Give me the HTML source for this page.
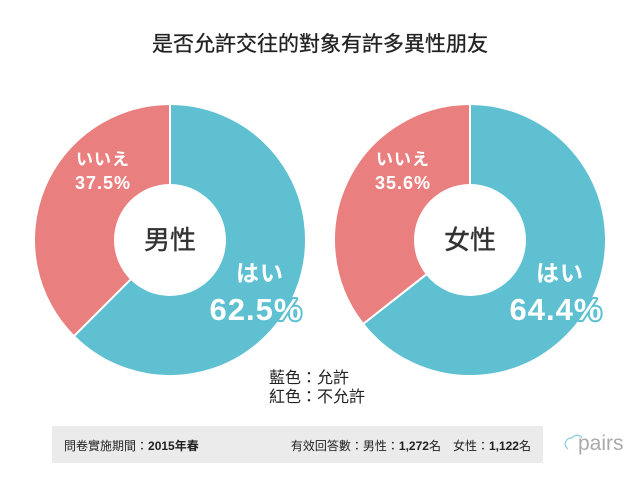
<!DOCTYPE html>
<html><head><meta charset="utf-8"><style>
body{margin:0;width:640px;height:490px;background:#fff;overflow:hidden;font-family:"Liberation Sans","Noto Sans CJK TC",sans-serif}
svg text{font-family:"Liberation Sans","Noto Sans CJK TC",sans-serif}
</style></head><body>
<svg width="640" height="490">
<text x="320" y="51" text-anchor="middle" font-size="21" fill="#222" stroke="#222" stroke-width="0.3">是否允許交往的對象有許多異性朋友</text>
<g id="pies"></g>
<text x="269" y="383" font-size="16" fill="#222">藍色：允許</text>
<text x="269" y="402" font-size="16" fill="#222">紅色：不允許</text>
<rect x="52" y="426" width="491" height="37" fill="#ebebeb"/>
<text x="64" y="450" font-size="12" fill="#222">問卷實施期間：<tspan font-weight="bold">2015年春</tspan></text>
<text x="531" y="450" text-anchor="end" font-size="12" fill="#222">有效回答數：男性：<tspan font-weight="bold">1,272</tspan>名　女性：<tspan font-weight="bold">1,122</tspan>名</text>
<path d="M568 449 a6 6 0 0 1 4 -11 a6 6 0 0 1 10 0" fill="none" stroke="#8fd0dc" stroke-width="1.3"/>
<text x="578" y="450" font-size="21" fill="#aaa">pairs</text>
</svg>
<script>
const groups=['男性','女性'];
const yesValues=[62.5,64.4];
const noValues=[37.5,35.6];
const yesLabel='はい', noLabel='いいえ';
const centersX=[170,470], cy=240, R=136, r=56;
const ns='http://www.w3.org/2000/svg';
const g=document.getElementById('pies');
function pt(cx,a,rad){return [cx+rad*Math.sin(a),cy-rad*Math.cos(a)];}
function arc(cx,a0,a1){const l=a1-a0>Math.PI?1:0;const p0=pt(cx,a0,R),p1=pt(cx,a1,R);
return `M${cx},${cy} L${p0} A${R},${R} 0 ${l} 1 ${p1} Z`;}
function txt(x,y,s,size,fill,stroke,name){const t=document.createElementNS(ns,'text');
t.setAttribute('x',x);t.setAttribute('y',y);t.setAttribute('text-anchor','middle');t.setAttribute('font-size',size);
t.setAttribute('font-weight','bold');t.setAttribute('fill',fill);
if(stroke){t.setAttribute('stroke',stroke);t.setAttribute('stroke-width',4);t.setAttribute('paint-order','stroke');t.setAttribute('stroke-linejoin','round');}
t.setAttribute('letter-spacing','1');
t.textContent=s;


g.appendChild(t);}
groups.forEach((grp,i)=>{const cx=centersX[i];const tot=yesValues[i]+noValues[i];
const a=yesValues[i]/tot*2*Math.PI;
const p1=document.createElementNS(ns,'path');p1.setAttribute('d',arc(cx,0,a));p1.setAttribute('fill','#5ec0d1');p1.setAttribute('stroke','#fff');p1.setAttribute('stroke-width',2);


g.appendChild(p1);
const p2=document.createElementNS(ns,'path');p2.setAttribute('d',arc(cx,a,2*Math.PI));p2.setAttribute('fill','#e97f7f');p2.setAttribute('stroke','#fff');p2.setAttribute('stroke-width',2);


g.appendChild(p2);
const c=document.createElementNS(ns,'circle');c.setAttribute('cx',cx);c.setAttribute('cy',cy);c.setAttribute('r',r);c.setAttribute('fill','#fff');


g.appendChild(c);
const ct=document.createElementNS(ns,'text');ct.setAttribute('x',cx);ct.setAttribute('y',cy+9);ct.setAttribute('text-anchor','middle');ct.setAttribute('font-size',26);ct.setAttribute('fill','#333');ct.setAttribute('stroke','#333');ct.setAttribute('stroke-width','0.4');ct.textContent=grp;


g.appendChild(ct);
txt(cx-67,165,noLabel,17,'#fff',null,'no-label-'+i);
txt(cx-67,189,noValues[i].toFixed(1)+'%',18,'#fff',null,'no-value-'+i);
txt(cx+90,281,yesLabel,23,'#fff','#5ec0d1','yes-label-'+i);
txt(cx+86,320,yesValues[i].toFixed(1)+'%',31,'#fff','#5ec0d1','yes-value-'+i);
});
</script>
</body></html>
